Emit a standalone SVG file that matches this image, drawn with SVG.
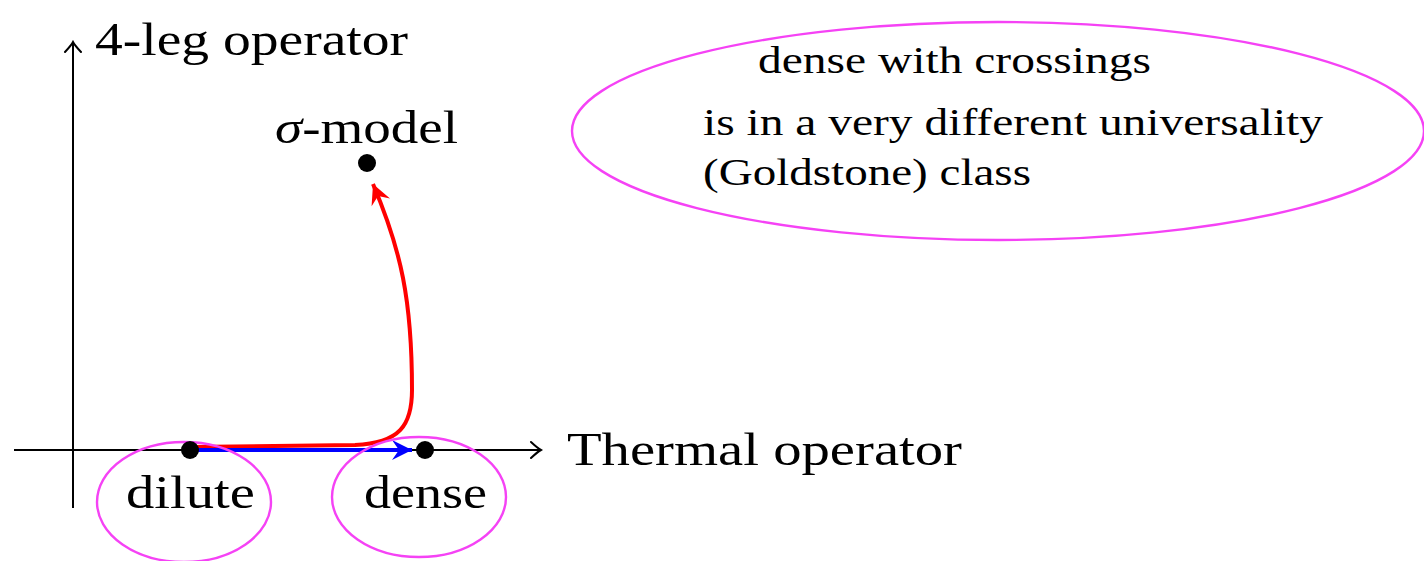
<svg xmlns="http://www.w3.org/2000/svg" width="1424" height="561" viewBox="0 0 1424 561">
<defs>
<style>
.lbl{font-family:"Liberation Serif","DejaVu Serif",serif;font-size:47px;fill:#000}
.note{font-family:"Liberation Serif","DejaVu Serif",serif;font-size:38px;fill:#000}
.axis{stroke:#000;stroke-width:2;fill:none}
.ring{stroke:#f542f5;stroke-width:2.4;fill:none}
.dot{fill:#000}
</style>
<marker id="openArrow" markerUnits="userSpaceOnUse" viewBox="-12 -10 14 20" markerWidth="14" markerHeight="20" refX="0" refY="0" orient="auto">
<path d="M-10,-8 Q-3,-1.5 0,0 Q-3,1.5 -10,8" fill="none" stroke="#000" stroke-width="2" stroke-linecap="round"/>
</marker>
<marker id="redHead" markerUnits="userSpaceOnUse" viewBox="-22 -12 24 24" markerWidth="24" markerHeight="24" refX="0" refY="0" orient="auto">
<path d="M0,0 L-20,-10 L-13,0 L-20,10 Z" fill="#ff0000"/>
</marker>
<marker id="blueHead" markerUnits="userSpaceOnUse" viewBox="-22 -12 24 24" markerWidth="24" markerHeight="24" refX="0" refY="0" orient="auto">
<path d="M0,0 L-20,-10 L-13,0 L-20,10 Z" fill="#0000ff"/>
</marker>
</defs>
<rect width="1424" height="561" fill="#fff"/>
<g id="connectors">
<line class="axis" x1="73" y1="508" x2="73" y2="42" marker-end="url(#openArrow)"/>
<line class="axis" x1="14" y1="450" x2="541" y2="450" marker-end="url(#openArrow)"/>
<path d="M190,447 L355,445 C400,443 412,425 412,390 C412,300 401,250 373,184" fill="none" stroke="#ff0000" stroke-width="4" marker-end="url(#redHead)"/>
<line x1="190" y1="450" x2="412" y2="450" stroke="#0000ff" stroke-width="4" marker-end="url(#blueHead)"/>
</g>
<g id="y-axis-label"><text class="lbl" x="95" y="55" textLength="313" lengthAdjust="spacingAndGlyphs">4-leg operator</text></g>
<g id="x-axis-label"><text class="lbl" x="567" y="465" textLength="395" lengthAdjust="spacingAndGlyphs">Thermal operator</text></g>
<g id="sigma-model">
<circle class="dot" cx="367" cy="163" r="9"/>
<text class="lbl" x="275" y="143" textLength="183" lengthAdjust="spacingAndGlyphs"><tspan font-style="italic">σ</tspan>-model</text>
</g>
<g id="dilute">
<ellipse class="ring" cx="184" cy="502" rx="87" ry="60"/>
<circle class="dot" cx="190" cy="450" r="9"/>
<text class="lbl" x="126" y="508" textLength="129" lengthAdjust="spacingAndGlyphs">dilute</text>
</g>
<g id="dense">
<ellipse class="ring" cx="419" cy="497" rx="87" ry="60"/>
<circle class="dot" cx="425" cy="450" r="9"/>
<text class="lbl" x="364" y="508" textLength="123" lengthAdjust="spacingAndGlyphs">dense</text>
</g>
<g id="note">
<ellipse class="ring" cx="998" cy="131" rx="426" ry="109"/>
<text class="note" x="758" y="73" textLength="393" lengthAdjust="spacingAndGlyphs">dense with crossings</text>
<text class="note" x="703" y="135" textLength="620" lengthAdjust="spacingAndGlyphs">is in a very different universality</text>
<text class="note" x="703" y="185" textLength="328" lengthAdjust="spacingAndGlyphs">(Goldstone) class</text>
</g>
</svg>
